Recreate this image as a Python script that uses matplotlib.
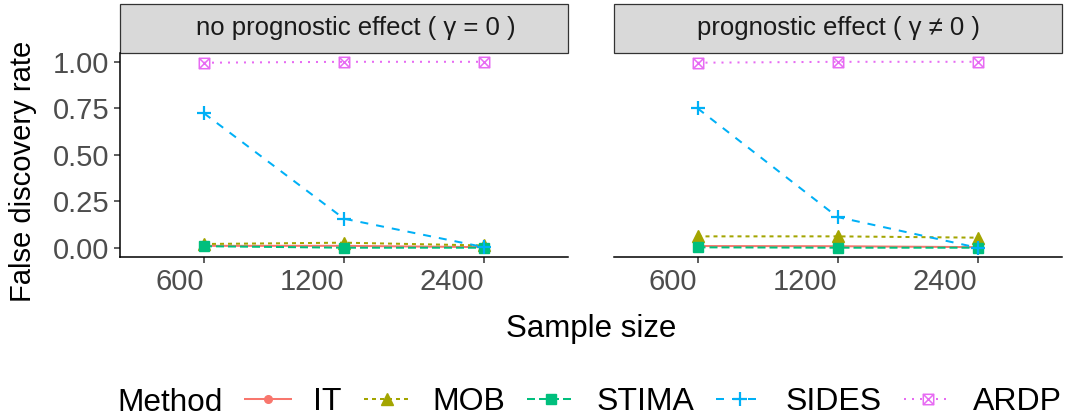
import matplotlib.pyplot as plt
from matplotlib.path import Path
from matplotlib.patches import Rectangle

plt.rcParams['font.family'] = ['Liberation Sans', 'DejaVu Sans']
plt.rcParams['lines.scale_dashes'] = False

# data
sizes = ["600", "1200", "2400"]
methods = ["IT", "MOB", "STIMA", "SIDES", "ARDP"]
panels = ["no prognostic effect ( γ = 0 )", "prognostic effect ( γ ≠ 0 )"]

# false discovery rate per panel: [gamma = 0, gamma != 0]
it_fdr = [[0.010, 0.010, 0.003], [0.009, 0.008, 0.003]]
mob_fdr = [[0.020, 0.027, 0.012], [0.061, 0.061, 0.054]]
stima_fdr = [[0.008, 0.000, 0.000], [0.002, 0.000, 0.000]]
sides_fdr = [[0.723, 0.156, 0.003], [0.750, 0.165, 0.000]]
ardp_fdr = [[0.995, 1.000, 1.000], [0.995, 1.000, 1.000]]
fdr = [it_fdr, mob_fdr, stima_fdr, sides_fdr, ardp_fdr]

# styles (ggplot defaults)
colors = ["#F8766D", "#A3A500", "#00BF7D", "#00B0F6", "#E76BF3"]
u = 1.44
dashes = [None, (0, (2 * u, 2 * u)), (0, (4 * u, 2 * u)), (0, (4 * u, 4 * u)), (0, (1 * u, 3 * u))]
box_x = Path([(-1, -1), (1, -1), (1, 1), (-1, 1), (-1, -1), (-1, -1), (1, 1), (-1, 1), (1, -1)],
             [Path.MOVETO, Path.LINETO, Path.LINETO, Path.LINETO, Path.CLOSEPOLY,
              Path.MOVETO, Path.LINETO, Path.MOVETO, Path.LINETO])
markers = ["o", "^", "s", "+", box_x]
msizes = [5.5, 9, 7, 10, 7.5]

W, H = 1069, 420
fig = plt.figure(figsize=(W / 100, H / 100), dpi=100)
lefts = [120, 613.5]
pw, top, bot = 448, 52.5, 257
x = [1, 2, 3]

axes = []
for p in range(2):
    ax = fig.add_axes([lefts[p] / W, 1 - bot / H, pw / W, (bot - top) / H])
    axes.append(ax)
    for m in range(len(methods)):
        kw = dict(color=colors[m], lw=1.45, marker=markers[m], markersize=msizes[m],
                  label=methods[m], solid_capstyle='butt', dash_capstyle='butt')
        if dashes[m] is not None:
            kw['linestyle'] = dashes[m]
        if m == 3:
            kw['markeredgewidth'] = 1.6
        if m == 4:
            kw['markerfacecolor'] = 'none'
            kw['markeredgewidth'] = 1.1
        ax.plot(x, fdr[m][p], **kw)
    ax.set_xlim(0.4, 3.6)
    ax.set_ylim(-0.05, 1.05)
    ax.set_xticks(x)
    ax.set_xticklabels(sizes, ha='right')
    ax.set_yticks([0, 0.25, 0.5, 0.75, 1.0])
    ax.set_yticklabels(["0.00", "0.25", "0.50", "0.75", "1.00"])
    ax.tick_params(length=4, width=1.1, color='#333333', labelsize=21,
                   labelcolor='#4D4D4D', pad=3.6)
    ax.tick_params(axis='x', pad=4)
    for s in ['top', 'right']:
        ax.spines[s].set_visible(False)
    ax.spines['bottom'].set_linewidth(1.1)
    ax.spines['left'].set_linewidth(1.1)
    if p == 1:
        ax.spines['left'].set_visible(False)
        ax.tick_params(axis='y', left=False, labelleft=False)
    # facet strip
    sh = (top - 4) / (bot - top)
    ax.add_patch(Rectangle((0, 1), 1, sh, transform=ax.transAxes, clip_on=False,
                           facecolor='#D9D9D9', edgecolor='#333333', lw=0.9))
    ax.text([0.526, 0.503][p], 1 + sh / 2, panels[p], transform=ax.transAxes,
            ha='center', va='center', fontsize=18.5, color='#1A1A1A')

fig.text(23 / W, 1 - 171 / H, "False discovery rate", rotation=90, ha='center',
         va='center', fontsize=21)
fig.text(591 / W, 1 - 337 / H, "Sample size", ha='center', va='baseline', fontsize=22.5)

handles = axes[0].get_lines()
fig.text(117 / W, 1 - 410.7 / H, "Method", ha='left', va='baseline', fontsize=22.7)
fig.legend(handles, methods, loc='center left', bbox_to_anchor=(244 / W, 1 - 402 / H),
           ncol=5, frameon=False, fontsize=23, handlelength=1.5, handletextpad=0.66,
           columnspacing=0.69, borderpad=0, borderaxespad=0, numpoints=1)

fig.savefig("out.png", dpi=100)
